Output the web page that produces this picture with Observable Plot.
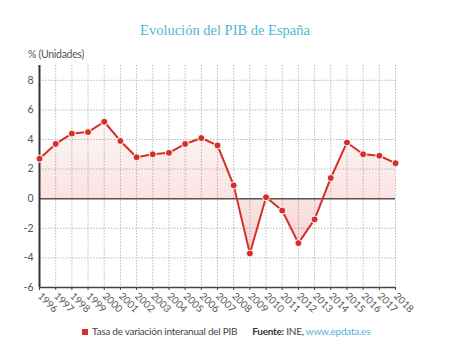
<!DOCTYPE html>
<html>
<head>
<meta charset="utf-8">
<script src="https://cdn.jsdelivr.net/npm/d3@7"></script>
<script src="https://cdn.jsdelivr.net/npm/@observablehq/plot@0.6"></script>
<style>
  body { margin: 0; background: #fff; width: 450px; height: 347px; overflow: hidden; font-family: Lato, "Open Sans", sans-serif; }
  #title { position: absolute; left: 0; top: 22px; width: 450px; text-align: center; font-family: "Liberation Serif", serif; font-size: 14.5px; line-height: 16px; color: #4fb7d4; }
  #unit { position: absolute; left: 28px; top: 48px; font-size: 10.5px; line-height: 12px; letter-spacing: -0.3px; color: #555; }
  #chart { position: absolute; left: 0; top: 58px; }
  #legend { position: absolute; left: 82px; top: 325px; font-size: 10px; line-height: 12px; letter-spacing: -0.25px; color: #444; white-space: nowrap; }
  #legend .sw { display: inline-block; width: 6px; height: 6px; background: #d62f28; margin-right: 4px; vertical-align: 0px; }
  #legend b { margin-left: 15px; color: #333; }
  #legend a { color: #4fb3d9; text-decoration: none; }
</style>
</head>
<body>
<div id="title">Evolución del PIB de España</div>
<div id="unit">% (Unidades)</div>
<div id="chart"></div>
<div id="legend"><span class="sw"></span>Tasa de variación interanual del PIB<b>Fuente:</b> INE, <a>www.epdata.es</a></div>
<script>
const years = [1996,1997,1998,1999,2000,2001,2002,2003,2004,2005,2006,2007,2008,2009,2010,2011,2012,2013,2014,2015,2016,2017,2018];
const values = [2.7,3.7,4.4,4.5,5.2,3.9,2.8,3.0,3.1,3.7,4.1,3.6,0.9,-3.7,0.1,-0.8,-3.0,-1.4,1.4,3.8,3.0,2.9,2.4];
const yTicks = [-6,-4,-2,0,2,4,6,8];
const seriesName = "Tasa de variación interanual del PIB";

const data = years.map((year, i) => ({year, value: values[i]}));

const defs = () => {
  const d = d3.create("svg:defs");
  const g = d.append("linearGradient").attr("id", "areaGrad").attr("x1", 0).attr("x2", 0).attr("y1", 0).attr("y2", 1);
  g.append("stop").attr("offset", "0%").attr("stop-color", "#d62f28").attr("stop-opacity", 0.04);
  g.append("stop").attr("offset", "100%").attr("stop-color", "#d62f28").attr("stop-opacity", 0.2);
  return d.node();
};

const chart = Plot.plot({
  width: 450,
  height: 262,
  marginLeft: 39,
  marginRight: 55,
  marginTop: 7,
  marginBottom: 33,
  style: {fontFamily: "Lato, 'Open Sans', sans-serif", color: "#555", background: "transparent"},
  x: {domain: [1996, 2018]},
  y: {domain: [-6, 9]},
  marks: [
    defs,
    Plot.gridX({ticks: years, stroke: "#bbb", strokeOpacity: 1, strokeDasharray: "1.5,1.5"}),
    Plot.gridY({ticks: yTicks, stroke: "#bbb", strokeOpacity: 1, strokeDasharray: "1.5,1.5"}),
    Plot.areaY(data, {x: "year", y1: 0, y2: "value", fill: "url(#areaGrad)"}),
    Plot.ruleY([0], {stroke: "#555", strokeWidth: 1.5}),
    Plot.ruleY([-6], {stroke: "#444", strokeWidth: 1.5}),
    Plot.ruleX([1996], {stroke: "#333", strokeWidth: 2}),
    Plot.axisY({ticks: yTicks, tickFormat: d => String(d), tickSize: 0, tickPadding: 6, fontSize: 10.5, label: null}),
    Plot.axisX({ticks: years, tickFormat: d => String(d), tickRotate: 45, tickSize: 3, tickPadding: 4, fontSize: 10, label: null, stroke: "#444"}),
    Plot.line(data, {x: "year", y: "value", stroke: "#d62f28", strokeWidth: 2}),
    Plot.dot(data, {x: "year", y: "value", r: 3.5, fill: "#d62f28", stroke: "#fff", strokeWidth: 1, title: d => `${seriesName}: ${d.value}`})
  ]
});
document.getElementById("chart").appendChild(chart);
</script>
</body>
</html>
